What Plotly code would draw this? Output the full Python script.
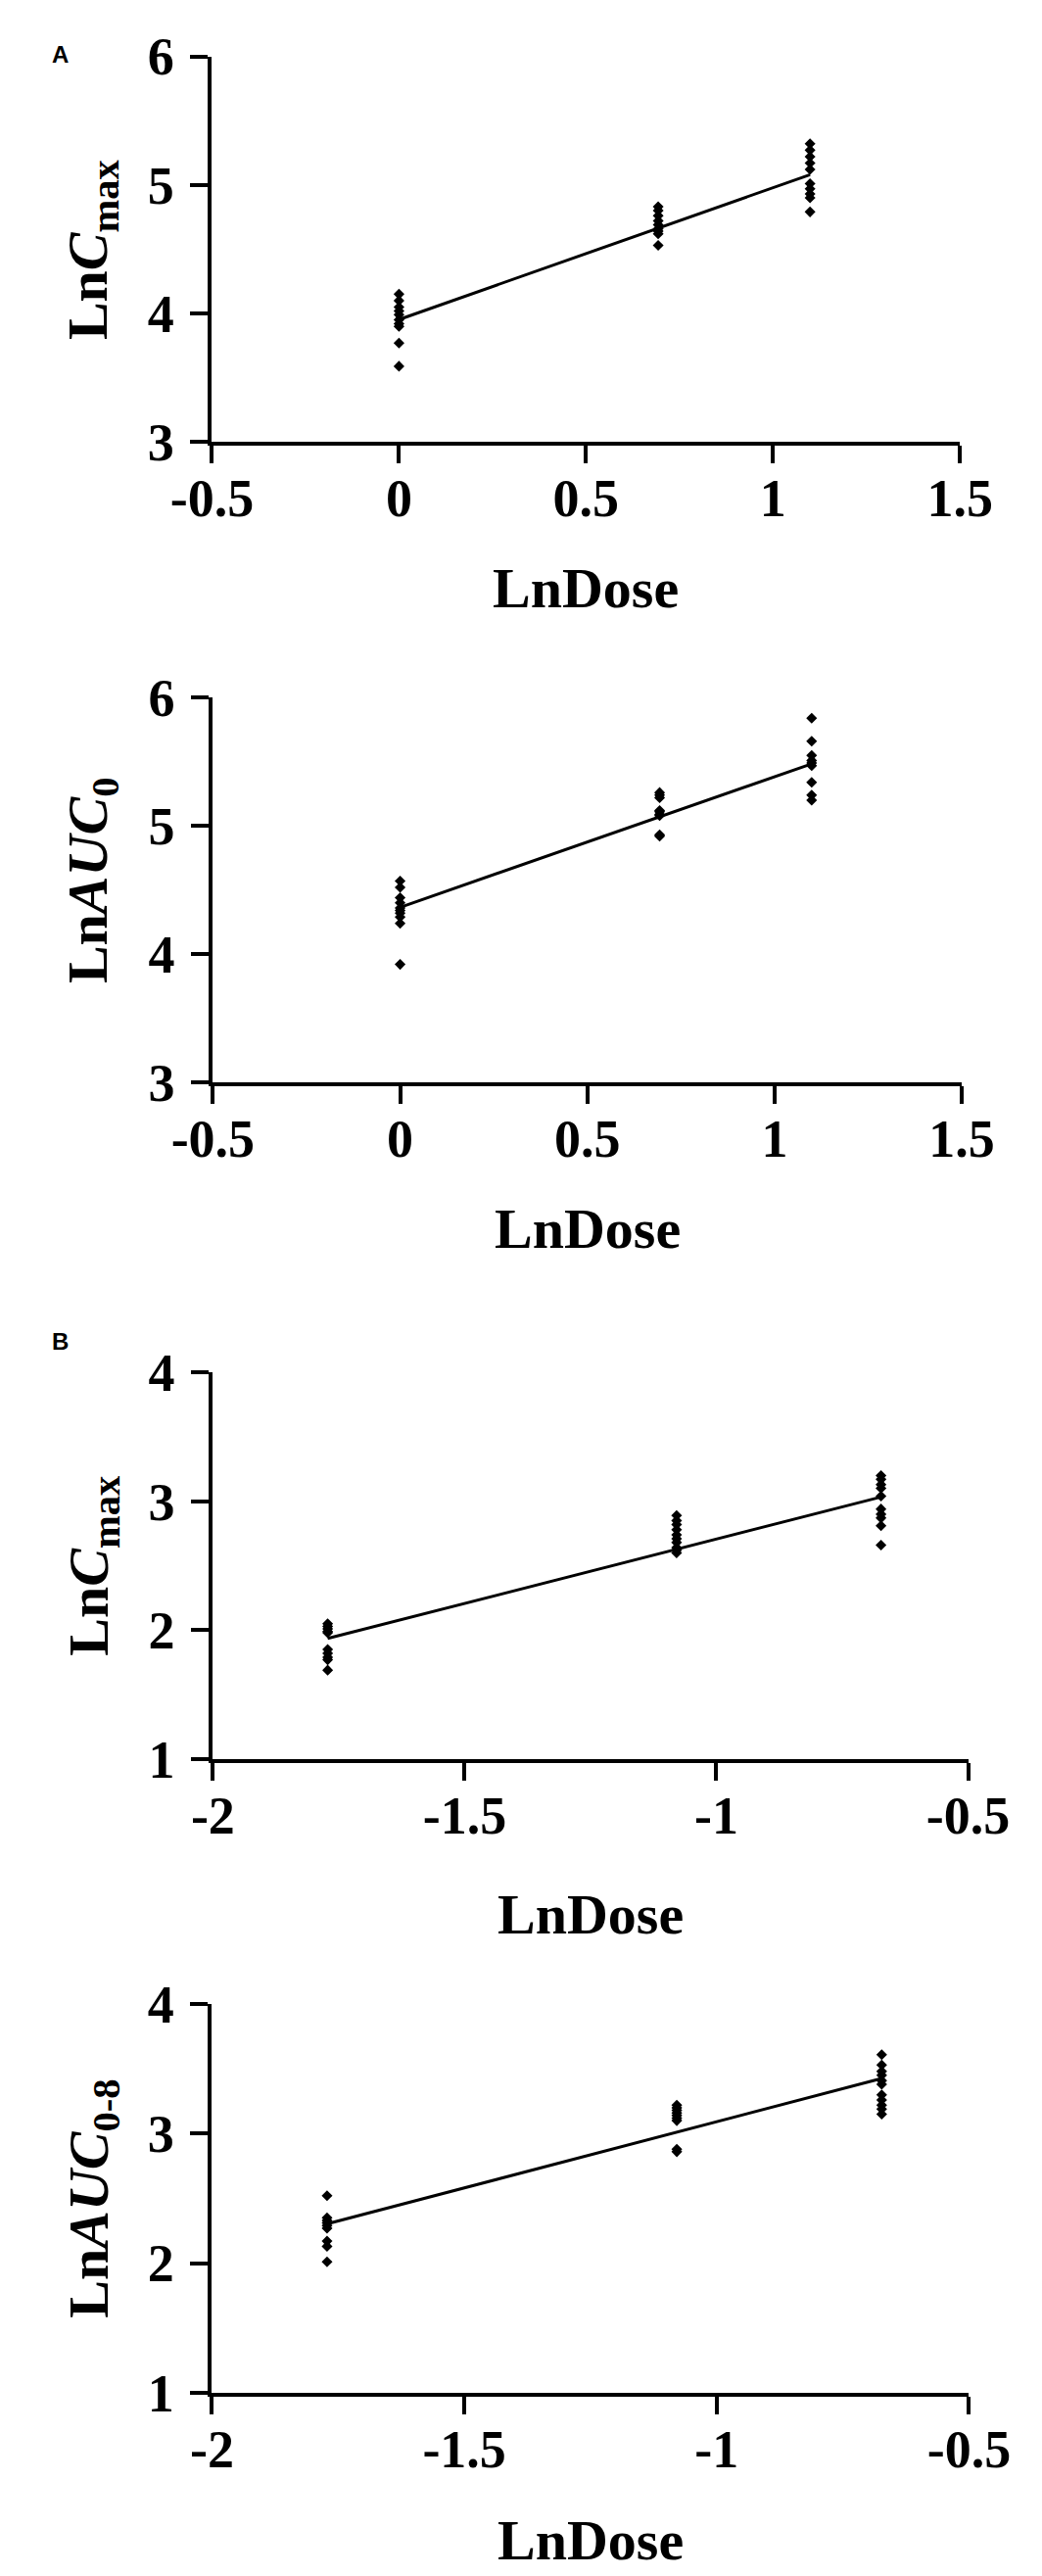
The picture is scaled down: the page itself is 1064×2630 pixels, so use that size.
import plotly.graph_objects as go

W, H = 1064, 2630

# ---------------- data ----------------
ln_dose_a = [0.0, 0.693, 1.099]        # ln(1), ln(2), ln(3)
ln_dose_b = [-1.772, -1.079, -0.673]   # ln(0.17), ln(0.34), ln(0.51)

# Panel A – LnCmax
cmax_a_d1 = [4.15, 4.10, 4.05, 4.02, 3.99, 3.95, 3.92, 3.90, 3.77, 3.59]
cmax_a_d2 = [4.83, 4.80, 4.76, 4.72, 4.69, 4.66, 4.64, 4.62, 4.53]
cmax_a_d3 = [5.32, 5.27, 5.22, 5.17, 5.12, 5.01, 4.97, 4.93, 4.90, 4.79]
cmax_a_fit = [3.953, 5.080]

# Panel A – LnAUC0
auc_a_d1 = [4.57, 4.52, 4.44, 4.40, 4.36, 4.34, 4.32, 4.29, 4.24, 3.92]
auc_a_d2 = [5.26, 5.24, 5.22, 5.12, 5.11, 5.09, 5.08, 4.93, 4.92]
auc_a_d3 = [5.84, 5.66, 5.55, 5.51, 5.49, 5.47, 5.34, 5.24, 5.20]
auc_a_fit = [4.365, 5.484]

# Panel B – LnCmax
cmax_b_d1 = [2.05, 2.03, 2.01, 1.99, 1.98, 1.85, 1.82, 1.79, 1.77, 1.69]
cmax_b_d2 = [2.89, 2.85, 2.82, 2.78, 2.74, 2.71, 2.68, 2.64, 2.62, 2.60]
cmax_b_d3 = [3.20, 3.17, 3.13, 3.10, 3.04, 2.94, 2.90, 2.87, 2.81, 2.66]
cmax_b_fit = [1.936, 3.033]

# Panel B – LnAUC0-8
auc_b_d1 = [2.52, 2.35, 2.33, 2.31, 2.29, 2.27, 2.17, 2.13, 2.01]
auc_b_d2 = [3.22, 3.20, 3.18, 3.16, 3.14, 3.12, 3.10, 2.88, 2.86]
auc_b_d3 = [3.61, 3.53, 3.48, 3.45, 3.41, 3.38, 3.30, 3.26, 3.22, 3.19, 3.15]
auc_b_fit = [2.303, 3.426]

xticks_a = [-0.5, 0, 0.5, 1, 1.5]
xticktext_a = ["-0.5", "0", "0.5", "1", "1.5"]
xticks_b = [-2, -1.5, -1, -0.5]
xticktext_b = ["-2", "-1.5", "-1", "-0.5"]
yticks_a = [3, 4, 5, 6]
yticks_b = [1, 2, 3, 4]

x_title = "LnDose"
y_titles = ["Ln<i>C</i><sub>max</sub>", "Ln<i>AUC</i><sub>0</sub>",
            "Ln<i>C</i><sub>max</sub>", "Ln<i>AUC</i><sub>0-8</sub>"]
panel_letters = ["A", "B"]

# ---------------- layout helpers ----------------
SERIF = "Liberation Serif"
TICK_SIZE = 54
TITLE_SIZE = 58


def py(p):
    return 1 - p / H


def px(p):
    return p / W


panels = [
    dict(doses=ln_dose_a, groups=[cmax_a_d1, cmax_a_d2, cmax_a_d3], fit=cmax_a_fit,
         xr=[-0.5, 1.5], yr=[3, 6], xt=xticks_a, xtt=xticktext_a, yt=yticks_a,
         xdom=[180, 1011], ydom=[21, 424], ytitle_y=223, xtitle_y=577),
    dict(doses=ln_dose_a, groups=[auc_a_d1, auc_a_d2, auc_a_d3], fit=auc_a_fit,
         xr=[-0.5, 1.5], yr=[3, 6], xt=xticks_a, xtt=xticktext_a, yt=yticks_a,
         xdom=[181, 1013], ydom=[691, 1093], ytitle_y=882, xtitle_y=1246),
    dict(doses=ln_dose_b, groups=[cmax_b_d1, cmax_b_d2, cmax_b_d3], fit=cmax_b_fit,
         xr=[-2, -0.5], yr=[1, 4], xt=xticks_b, xtt=xticktext_b, yt=yticks_b,
         xdom=[181, 1020], ydom=[1396, 1800], ytitle_y=1598, xtitle_y=1962),
    dict(doses=ln_dose_b, groups=[auc_b_d1, auc_b_d2, auc_b_d3], fit=auc_b_fit,
         xr=[-2, -0.5], yr=[1, 4], xt=xticks_b, xtt=xticktext_b, yt=yticks_b,
         xdom=[180, 1021], ydom=[2056, 2462], ytitle_y=2259, xtitle_y=2616),
]

fig = go.Figure()
layout = dict(
    width=W, height=H, margin=dict(l=0, r=0, t=0, b=0),
    paper_bgcolor="white", plot_bgcolor="white", showlegend=False,
    font=dict(family=SERIF, color="black"),
)
annotations = []

for i, p in enumerate(panels):
    n = "" if i == 0 else str(i + 1)
    xs, ys = [], []
    for d, g in zip(p["doses"], p["groups"]):
        xs += [d] * len(g)
        ys += g
    fig.add_trace(go.Scatter(
        x=xs, y=ys, mode="markers", xaxis="x" + n, yaxis="y" + n,
        marker=dict(symbol="diamond", size=8.5, color="black"),
        hoverinfo="skip", cliponaxis=False))
    fig.add_trace(go.Scatter(
        x=[p["doses"][0], p["doses"][-1]], y=p["fit"], mode="lines",
        xaxis="x" + n, yaxis="y" + n,
        line=dict(color="black", width=3), hoverinfo="skip"))

    common = dict(showline=True, linecolor="black", linewidth=4, ticks="outside",
                  ticklen=18, tickwidth=4, tickcolor="black", showgrid=False,
                  zeroline=False, tickfont=dict(family=SERIF, size=TICK_SIZE,
                                                color="black", weight="bold"))
    layout["xaxis" + n] = dict(
        common, domain=[px(p["xdom"][0]), px(p["xdom"][1])], range=p["xr"],
        tickmode="array", tickvals=p["xt"], ticktext=p["xtt"],
        anchor="y" + n, ticklabelstandoff=-11)
    layout["yaxis" + n] = dict(
        common, domain=[py(p["ydom"][1]), py(p["ydom"][0])], range=p["yr"],
        tickmode="array", tickvals=p["yt"], ticktext=[str(v) for v in p["yt"]],
        anchor="x" + n, ticklabelstandoff=6)

    annotations.append(dict(
        text=y_titles[i], xref="paper", yref="paper", x=px(47), y=py(p["ytitle_y"]),
        xanchor="center", yanchor="middle", textangle=-90, showarrow=False,
        font=dict(family=SERIF, size=TITLE_SIZE, color="black", weight="bold")))
    annotations.append(dict(
        text=x_title, xref="paper", yref="paper",
        x=px((p["xdom"][0] + p["xdom"][1]) / 2), y=py(p["xtitle_y"]),
        xanchor="center", yanchor="middle", showarrow=False,
        font=dict(family=SERIF, size=TITLE_SIZE, color="black", weight="bold")))

for letter, ypix in zip(panel_letters, [19, 1364]):
    annotations.append(dict(text=letter, xref="paper", yref="paper", x=px(0), y=py(ypix),
                            xanchor="left", yanchor="middle", showarrow=False,
                            font=dict(family="Liberation Sans", size=24, color="black",
                                      weight="bold")))

layout["annotations"] = annotations
fig.update_layout(**layout)
fig.write_html("out.html")
